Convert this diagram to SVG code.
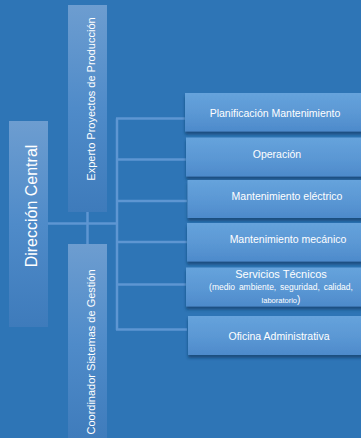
<svg xmlns="http://www.w3.org/2000/svg" width="361" height="438" viewBox="0 0 361 438">
  <defs>
    <linearGradient id="gVert" x1="0" y1="0" x2="0" y2="1">
      <stop offset="0" stop-color="#6d9dd0"/>
      <stop offset="0.5" stop-color="#4f8bc9"/>
      <stop offset="1" stop-color="#3e7bbb"/>
    </linearGradient>
    <linearGradient id="gBox" x1="0" y1="0" x2="0" y2="1">
      <stop offset="0" stop-color="#66a3dc"/>
      <stop offset="0.6" stop-color="#5996d3"/>
      <stop offset="1" stop-color="#4d8acb"/>
    </linearGradient>
    <filter id="shadow" x="-10%" y="-10%" width="130%" height="140%">
      <feDropShadow dx="0" dy="3" stdDeviation="1.5" flood-color="#163d66" flood-opacity="0.7"/>
    </filter>
  </defs>
  <style>
    .lbl { font-family: "Liberation Sans", Arial, sans-serif; fill: #ffffff; }
    .side { fill: url(#gVert); }
    .unit { fill: url(#gBox); filter: url(#shadow); }
    .bus { stroke: #5e96d2; stroke-width: 2.5; fill: none; }
  </style>

  <rect width="361" height="438" fill="#2e75b6"/>

  <!-- connectors -->
  <g id="connectors">
    <line class="bus" x1="87.5" y1="212" x2="87.5" y2="244" stroke="#8db0e2"/>
    <line class="bus" x1="48" y1="223.5" x2="117" y2="223.5"/>
    <line class="bus" x1="117" y1="118.5" x2="117" y2="330"/>
    <line class="bus" x1="116" y1="118.5" x2="186" y2="118.5"/>
    <line class="bus" x1="116" y1="159.5" x2="186" y2="159.5"/>
    <line class="bus" x1="116" y1="201" x2="187" y2="201"/>
    <line class="bus" x1="116" y1="242" x2="187" y2="242"/>
    <line class="bus" x1="116" y1="284.5" x2="186" y2="284.5"/>
    <line class="bus" x1="116" y1="329.5" x2="187" y2="329.5"/>
  </g>

  <!-- left column -->
  <g id="direccion">
    <rect class="side" x="9" y="121" width="39" height="206"/>
    <text class="lbl" font-size="16" text-anchor="middle" transform="translate(36.5,206) rotate(-90)">Dirección Central</text>
  </g>
  <g id="experto">
    <rect class="side" x="68" y="5" width="39" height="207"/>
    <text class="lbl" font-size="11" text-anchor="middle" transform="translate(95,99) rotate(-90)">Experto Proyectos de Producción</text>
  </g>
  <g id="coordinador">
    <rect class="side" x="68" y="244" width="39" height="200"/>
    <text class="lbl" font-size="11" text-anchor="middle" transform="translate(94.5,352) rotate(-90)">Coordinador Sistemas de Gestión</text>
  </g>

  <!-- units -->
  <g id="planificacion">
    <rect class="unit" x="185" y="93" width="180" height="38.5"/>
    <text class="lbl" font-size="10.5" text-anchor="middle" x="275" y="116.5">Planificación Mantenimiento</text>
  </g>
  <g id="operacion">
    <rect class="unit" x="186" y="137.5" width="180" height="39"/>
    <text class="lbl" font-size="10.5" text-anchor="middle" x="277" y="158">Operación</text>
  </g>
  <g id="electrico">
    <rect class="unit" x="187.5" y="180" width="180" height="38"/>
    <text class="lbl" font-size="10.5" text-anchor="middle" x="287" y="200">Mantenimiento eléctrico</text>
  </g>
  <g id="mecanico">
    <rect class="unit" x="187" y="223" width="180" height="38.5"/>
    <text class="lbl" font-size="10.5" text-anchor="middle" x="288" y="243">Mantenimiento mecánico</text>
  </g>
  <g id="servicios">
    <rect class="unit" x="186" y="267.5" width="180" height="39"/>
    <text class="lbl" font-size="11" text-anchor="middle" x="281" y="278">Servicios Técnicos</text>
    <text class="lbl" font-size="8.5" text-anchor="middle" x="281" y="290" word-spacing="1.5">(medio ambiente, seguridad, calidad,</text>
    <text class="lbl" font-size="7.5" text-anchor="middle" x="281" y="303">laboratorio<tspan font-size="10">)</tspan></text>
  </g>
  <g id="oficina">
    <rect class="unit" x="188" y="316" width="180" height="39"/>
    <text class="lbl" font-size="10.5" text-anchor="middle" x="279" y="340">Oficina Administrativa</text>
  </g>
</svg>
